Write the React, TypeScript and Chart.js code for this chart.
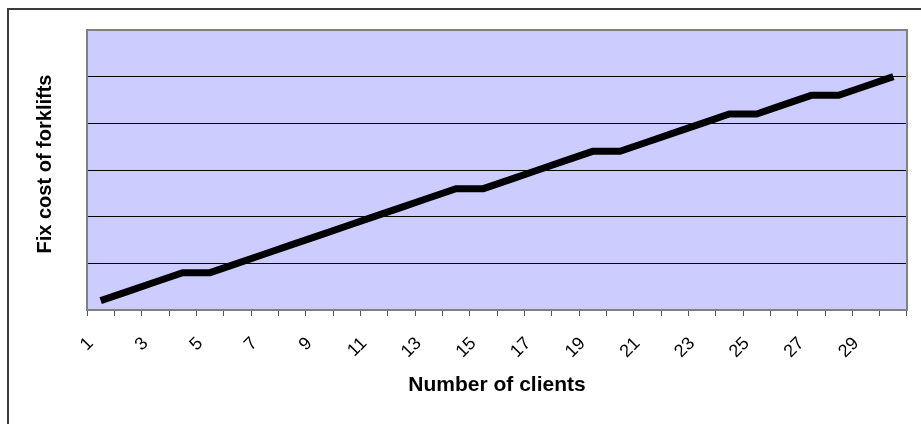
import React, { useEffect, useRef } from "react";
import { Chart, registerables } from "chart.js";

Chart.register(...registerables);

const categories: string[] = Array.from({ length: 30 }, (_, i) => String(i + 1));
const fixCost: number[] = [
  0.2, 0.4, 0.6, 0.8, 0.8, 1.0, 1.2, 1.4, 1.6, 1.8,
  2.0, 2.2, 2.4, 2.6, 2.6, 2.8, 3.0, 3.2, 3.4, 3.4,
  3.6, 3.8, 4.0, 4.2, 4.2, 4.4, 4.6, 4.6, 4.8, 5.0,
];
const yMin = 0;
const yMax = 6;
const yStep = 1;
const xTitle = "Number of clients";
const yTitle = "Fix cost of forklifts";

const FONT = "'Liberation Sans', Arial, sans-serif";

const framePlugin = {
  id: "frame",
  beforeDraw(chart: any) {
    const { ctx, chartArea } = chart;
    ctx.save();
    ctx.fillStyle = "#ffffff";
    ctx.fillRect(0, 0, chart.width, chart.height);
    ctx.strokeStyle = "#3a3a3a";
    ctx.lineWidth = 2;
    ctx.beginPath();
    ctx.moveTo(8, chart.height + 2);
    ctx.lineTo(8, 9);
    ctx.lineTo(chart.width + 2, 9);
    ctx.stroke();
    ctx.fillStyle = "#ccccff";
    ctx.fillRect(chartArea.left, chartArea.top, chartArea.right - chartArea.left, chartArea.bottom - chartArea.top);
    ctx.restore();
  },
  afterDraw(chart: any) {
    const { ctx, chartArea } = chart;
    ctx.save();
    ctx.strokeStyle = "#808080";
    ctx.lineWidth = 2;
    ctx.strokeRect(chartArea.left, chartArea.top, chartArea.right - chartArea.left, chartArea.bottom - chartArea.top);
    // y axis title
    ctx.translate(45, (chartArea.top + chartArea.bottom) / 2 - 6);
    ctx.rotate(-Math.PI / 2);
    ctx.fillStyle = "#000000";
    ctx.font = `bold 20px ${FONT}`;
    ctx.textAlign = "center";
    ctx.textBaseline = "middle";
    ctx.fillText(yTitle, 0, 0);
    ctx.restore();
  },
};

export default function App() {
  const ref = useRef<HTMLCanvasElement | null>(null);
  useEffect(() => {
    if (!ref.current) return;
    const chart = new Chart(ref.current, {
      type: "line",
      data: {
        labels: categories,
        datasets: [
          {
            data: fixCost,
            borderColor: "#000000",
            borderWidth: 7,
            pointRadius: 0,
            tension: 0,
            borderJoinStyle: "miter",
          },
        ],
      },
      options: {
        animation: false,
        responsive: false,
        events: [],
        layout: { padding: { left: 0, top: 30, right: 14, bottom: 0 } },
        plugins: { legend: { display: false }, tooltip: { enabled: false } },
        scales: {
          x: {
            type: "category",
            offset: true,
            grid: {
              offset: true,
              drawOnChartArea: false,
              drawTicks: true,
              tickLength: 6,
              color: "#555555",
              lineWidth: 1,
            },
            border: { display: false },
            ticks: {
              autoSkip: false,
              minRotation: 45,
              maxRotation: 45,
              padding: 17,
              labelOffset: -10,
              color: "#000000",
              font: { family: FONT, size: 18 },
              callback: (_v: any, i: number) => (i % 2 === 0 ? categories[i] : ""),
            },
            title: {
              display: true,
              text: xTitle,
              color: "#000000",
              font: { family: FONT, size: 21, weight: "bold" },
              padding: { top: 0, bottom: 26 },
            },
            afterFit: (s: any) => {
              s.height = 114;
              s.paddingLeft = 0;
              s.paddingRight = 0;
            },
          },
          y: {
            min: yMin,
            max: yMax,
            ticks: { display: false, stepSize: yStep },
            grid: { color: "#000000", lineWidth: 1, drawTicks: false },
            border: { display: false },
            title: { display: false },
            afterFit: (s: any) => {
              s.width = 87;
              s.paddingTop = 0;
              s.paddingBottom = 0;
            },
          },
        },
      },
      plugins: [framePlugin],
    });
    return () => chart.destroy();
  }, []);
  return (
    <div style={{ position: "fixed", left: 0, top: 0, width: 921, height: 424 }}>
      <canvas ref={ref} width={921} height={424} style={{ display: "block" }} />
    </div>
  );
}
